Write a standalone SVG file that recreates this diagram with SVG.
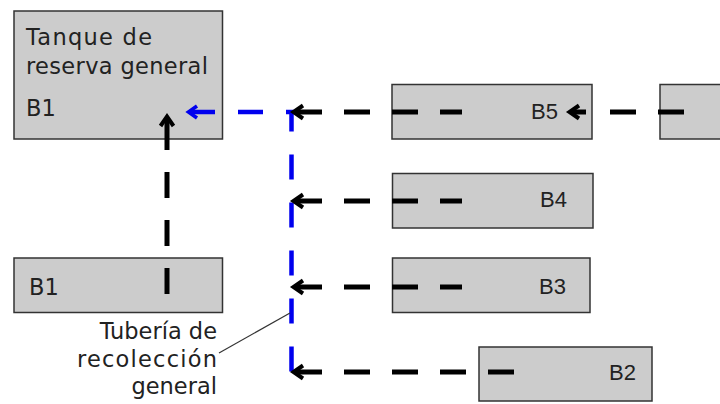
<svg xmlns="http://www.w3.org/2000/svg" width="720" height="404" viewBox="0 0 720 404">
<style>
.box{fill:#cccccc;stroke:#333333;stroke-width:1.5}
.gt{font-family:"DejaVu Sans","Liberation Sans",sans-serif;font-size:22.5px;fill:#222222}
.bt{font-family:"Liberation Sans",Arial,sans-serif;font-size:22px;fill:#222222}
.blk{fill:none;stroke:#000000;stroke-width:5;stroke-dasharray:26 22}
.blu{fill:none;stroke:#0000ee;stroke-width:4.5;stroke-dasharray:25 23}
</style>
<defs>
<marker id="ak" markerUnits="userSpaceOnUse" viewBox="-3 -10 18 20" refX="4" refY="0" markerWidth="18" markerHeight="20" orient="auto">
<path d="M11,-6.5 L1.5,0 L11,6.5" fill="none" stroke="#000000" stroke-width="4"/>
</marker>
<marker id="ab" markerUnits="userSpaceOnUse" viewBox="-3 -10 18 20" refX="3" refY="0" markerWidth="18" markerHeight="20" orient="auto">
<path d="M10,-6 L1.5,0 L10,6" fill="none" stroke="#0000ee" stroke-width="3.6"/>
</marker>
</defs>
<rect width="720" height="404" fill="#ffffff"/>
<g id="tanque">
<rect class="box" x="14" y="11" width="208.5" height="128"/>
<text class="gt" x="26" y="45" textLength="126" lengthAdjust="spacing">Tanque de</text>
<text class="gt" x="26" y="74" textLength="182" lengthAdjust="spacing">reserva general</text>
<text class="gt" x="26" y="116">B1</text>
</g>
<g id="b1">
<rect class="box" x="14" y="258" width="208.5" height="54.5"/>
<text class="gt" x="29" y="295">B1</text>
</g>
<g id="b5">
<rect class="box" x="392" y="84.5" width="200" height="54.5"/>
<text class="bt" x="531" y="119">B5</text>
</g>
<g id="b4">
<rect class="box" x="392.5" y="173.5" width="200.5" height="54.5"/>
<text class="bt" x="540" y="207">B4</text>
</g>
<g id="b3">
<rect class="box" x="392.5" y="258" width="197.5" height="54.5"/>
<text class="bt" x="539" y="294">B3</text>
</g>
<g id="b2">
<rect class="box" x="479" y="347" width="173" height="54"/>
<text class="bt" x="609" y="380">B2</text>
</g>
<g id="b6">
<rect class="box" x="660" y="84.5" width="70" height="54.5"/>
</g>
<g id="label">
<text class="gt" x="217" y="339" text-anchor="end">Tubería de</text>
<text class="gt" x="217" y="367" text-anchor="end" textLength="140" lengthAdjust="spacing">recolección</text>
<text class="gt" x="217" y="394" text-anchor="end">general</text>
</g>
<g id="connectors">
<path class="blu" d="M190,112 H291.5 V372" marker-start="url(#ab)"/>
<path class="blk" d="M296,112 H462" marker-start="url(#ak)"/>
<path class="blk" d="M296,201 H462" marker-start="url(#ak)"/>
<path class="blk" d="M296,287 H462" marker-start="url(#ak)"/>
<path class="blk" d="M296,372 H514" marker-start="url(#ak)"/>
<path class="blk" d="M572,112 H684" style="stroke-dasharray:14 24 26 22 26" marker-start="url(#ak)"/>
<path class="blk" d="M167,119 V294" style="stroke-dasharray:31 22 26 22 26 22 26" marker-start="url(#ak)"/>
<path d="M219,353 L290,313" fill="none" stroke="#333333" stroke-width="1.2"/>
</g>
</svg>
